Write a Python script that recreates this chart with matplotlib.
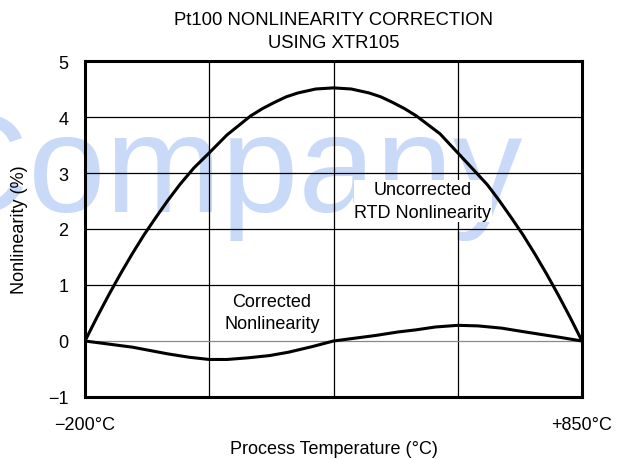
import matplotlib

matplotlib.use("Agg")
import matplotlib.pyplot as plt

# readings (temperature in degC, nonlinearity in %)
uncorrected_temps = [-200, -175, -150, -125, -100, -75, -50, -25, 0, 30, 62.5, 100,
                     150, 175, 200, 225, 250, 287.5, 325, 362.5, 400, 425, 450,
                     475, 500, 550, 587.5, 625, 650, 675, 700, 725, 750, 775, 800,
                     825, 850]
uncorrected = [0.0, 0.42, 0.82, 1.20, 1.56, 1.90, 2.21, 2.51, 2.79, 3.09, 3.36,
               3.68, 4.02, 4.15, 4.26, 4.36, 4.43, 4.50, 4.52, 4.50, 4.43, 4.36,
               4.26, 4.15, 4.02, 3.70, 3.36, 3.02, 2.79, 2.51, 2.21, 1.90, 1.56,
               1.20, 0.82, 0.42, 0.0]

corrected_temps = [-200, -150, -100, -25, 20, 62.5, 100, 145, 190, 230, 280, 325,
                   370, 415, 460, 500, 540, 587.5, 630, 680, 720, 765, 800, 850]
corrected = [0.0, -0.055, -0.11, -0.23, -0.29, -0.33, -0.33, -0.30, -0.26, -0.20,
             -0.10, 0.0, 0.05, 0.10, 0.16, 0.20, 0.25, 0.28, 0.27, 0.23, 0.175,
             0.115, 0.07, 0.0]

y_ticks = [-1, 0, 1, 2, 3, 4, 5]
y_tick_labels = ["\u22121", "0", "1", "2", "3", "4", "5"]
x_ticks = [-200, 850]
x_tick_labels = ["\u2212200\u00b0C", "+850\u00b0C"]
x_grid = [62.5, 325, 587.5]

plt.rcParams.update(
    {
        "font.family": ["Liberation Sans", "DejaVu Sans"],
        "font.size": 13,
    }
)

fig = plt.figure(figsize=(6.29, 4.60), dpi=100)
ax = fig.add_axes([85 / 629, 62 / 460, 497 / 629, 336 / 460])
ax.patch.set_visible(False)

# watermark sits behind the axes
fig.text(522 / 629, 248 / 460, "Company", ha="right", va="baseline",
         fontsize=100, color="#c8daf8", zorder=-1)

ax.plot(uncorrected_temps, uncorrected, color="black", lw=2.2, zorder=4,
        solid_joinstyle="round")
ax.plot(corrected_temps, corrected, color="black", lw=2.2, zorder=4,
        solid_joinstyle="round")

ax.set_xlim(-200, 850)
ax.set_ylim(-1, 5)
ax.set_yticks(y_ticks)
ax.set_yticklabels(y_tick_labels)
ax.set_xticks(x_ticks)
ax.set_xticklabels(x_tick_labels)
ax.set_xticks(x_grid, minor=True)
ax.tick_params(axis="both", which="both", length=0)
ax.tick_params(axis="y", pad=12)
ax.tick_params(axis="x", pad=14)

ax.set_axisbelow(True)
ax.grid(True, axis="y", which="major", color="black", lw=0.9)
ax.grid(True, axis="x", which="minor", color="black", lw=0.9)
for tick, value in zip(ax.yaxis.get_major_ticks(), y_ticks):
    if value == 0:
        tick.gridline.set_color("#8a8a8a")

for spine in ax.spines.values():
    spine.set_linewidth(2.2)
    spine.set_zorder(5)

ax.text(514, 2.5, "Uncorrected\nRTD Nonlinearity", ha="center", va="center",
        linespacing=1.45, zorder=3,
        bbox={"boxstyle": "square,pad=0.05", "facecolor": "white", "edgecolor": "none"})
ax.text(195, 0.51, "Corrected\nNonlinearity", ha="center", va="center",
        linespacing=1.45, zorder=3)

ax.set_title("Pt100 NONLINEARITY CORRECTION\nUSING XTR105", fontsize=13.3,
             linespacing=1.5, pad=10)
ax.set_xlabel("Process Temperature (\u00b0C)", labelpad=5)
ax.set_ylabel("Nonlinearity (%)", labelpad=14)

fig.savefig("out.png", dpi=100)
